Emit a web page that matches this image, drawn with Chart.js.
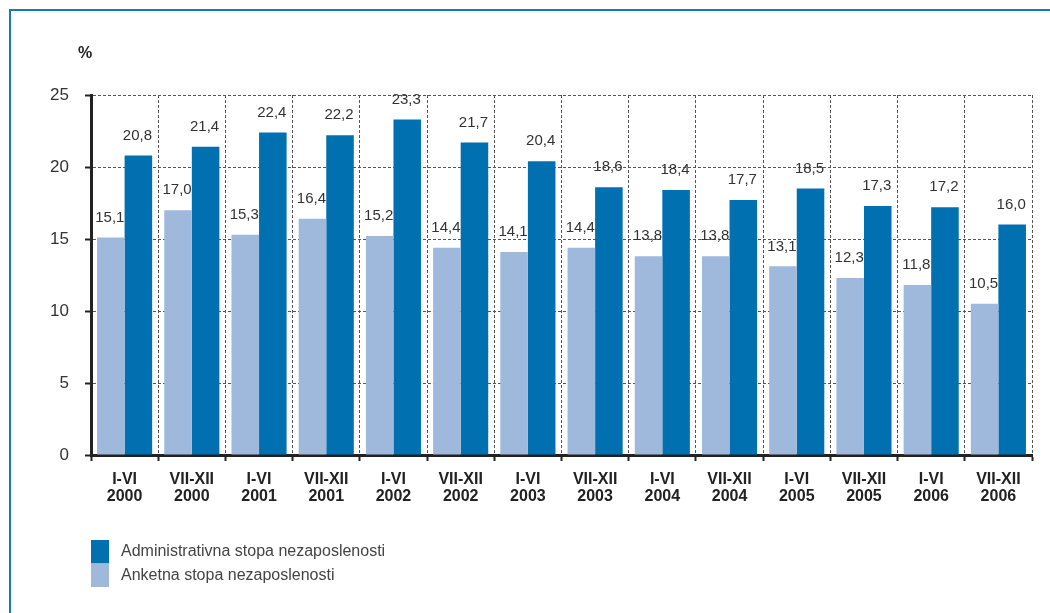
<!DOCTYPE html>
<html>
<head>
<meta charset="utf-8">
<script src="https://cdn.jsdelivr.net/npm/chart.js@4.4.0/dist/chart.umd.min.js"></script>
<style>
  html, body { margin: 0; padding: 0; background: #fff; }
  #wrap { width: 1050px; height: 613px; position: relative; }
</style>
</head>
<body>
<div id="wrap"><canvas id="grafico"></canvas></div>
<script>
// datos del grafico
const periodos = ['I-VI', 'VII-XII', 'I-VI', 'VII-XII', 'I-VI', 'VII-XII', 'I-VI', 'VII-XII', 'I-VI', 'VII-XII', 'I-VI', 'VII-XII', 'I-VI', 'VII-XII']
const godine = ['2000', '2000', '2001', '2001', '2002', '2002', '2003', '2003', '2004', '2004', '2005', '2005', '2006', '2006']
const anketna = [15.1, 17.0, 15.3, 16.4, 15.2, 14.4, 14.1, 14.4, 13.8, 13.8, 13.1, 12.3, 11.8, 10.5]
const administrativna = [20.8, 21.4, 22.4, 22.2, 23.3, 21.7, 20.4, 18.6, 18.4, 17.7, 18.5, 17.3, 17.2, 16.0]
const ticksY = [0, 5, 10, 15, 20, 25]
const nombreAnketna = 'Anketna stopa nezaposlenosti'
const nombreAdmin = 'Administrativna stopa nezaposlenosti'

const azulOscuro = '#0070b0'
const azulClaro = '#9fb9dd'
const fuente = '"Liberation Sans", Arial, sans-serif'

const etiquetas = periodos.map((p, i) => [p, godine[i]])

// plugin para marco, valores, % y leyenda
const extras = {
    id: 'extras',
    beforeDraw(chart) {
        const ctx = chart.ctx
        ctx.save()
        ctx.fillStyle = '#1a78b6'
        ctx.fillRect(9, 9, chart.width - 9, 2)
        ctx.fillRect(9, 9, 2, chart.height - 9)
        ctx.restore()
    },
    afterDatasetsDraw(chart) {
        const ctx = chart.ctx
        ctx.save()
        ctx.font = '15px ' + fuente
        ctx.fillStyle = '#333'
        ctx.textAlign = 'center'
        ctx.textBaseline = 'middle'
        chart.data.datasets.forEach((ds, i) => {
            const meta = chart.getDatasetMeta(i)
            meta.data.forEach((bar, j) => {
                const txt = ds.data[j].toFixed(1).replace('.', ',')
                ctx.fillText(txt, bar.x - 1, bar.y - 20)
            })
        })
        ctx.restore()
    },
    afterDraw(chart) {
        const ctx = chart.ctx
        const area = chart.chartArea
        ctx.save()
        ctx.font = 'bold 16px ' + fuente
        ctx.fillStyle = '#222'
        ctx.textAlign = 'center'
        ctx.textBaseline = 'middle'
        ctx.fillText('%', area.left - 6, 54)

        // leyenda (orden inverso)
        const items = chart.data.datasets.slice().reverse()
        ctx.font = '16px ' + fuente
        ctx.textAlign = 'left'
        items.forEach((ds, k) => {
            const y = 540 + k * 23.5
            ctx.fillStyle = ds.backgroundColor
            ctx.fillRect(area.left, y, 18, 23.5)
            ctx.fillStyle = '#444'
            ctx.fillText(ds.label, area.left + 30, y + 12)
        })
        ctx.restore()
    }
}

const ctx = document.getElementById('grafico').getContext('2d')
const grafico = new Chart(ctx, {
    type: 'bar',
    data: {
        labels: etiquetas,
        datasets: [{
            label: nombreAnketna,
            data: anketna,
            backgroundColor: azulClaro,
            borderWidth: 0
        }, {
            label: nombreAdmin,
            data: administrativna,
            backgroundColor: azulOscuro,
            borderWidth: 0
        }]
    },
    options: {
        responsive: true,
        maintainAspectRatio: false,
        animation: false,
        devicePixelRatio: 1,
        categoryPercentage: 0.82,
        barPercentage: 1,
        layout: {
            padding: { top: 95, right: 18, left: 0, bottom: 0 }
        },
        plugins: {
            legend: { display: false },
            tooltip: { enabled: false },
            title: { display: false }
        },
        scales: {
            x: {
                afterFit(scale) { scale.height = 158 },
                grid: {
                    offset: true,
                    color: '#555',
                    lineWidth: 1,
                    tickColor: '#222',
                    tickLength: 6,
                    tickWidth: 2
                },
                border: { color: '#222', width: 3, dash: [3, 2] },
                ticks: {
                    color: '#222',
                    padding: 10,
                    maxRotation: 0,
                    autoSkip: false,
                    font: { family: fuente, size: 16, weight: 'bold', lineHeight: 1.05 }
                }
            },
            y: {
                min: 0,
                max: 25,
                afterFit(scale) { scale.width = 91 },
                afterBuildTicks(scale) { scale.ticks = ticksY.map(v => ({ value: v })) },
                grid: {
                    color: '#555',
                    lineWidth: 1,
                    tickColor: '#222',
                    tickLength: 6,
                    tickWidth: 2
                },
                border: { color: '#222', width: 3, dash: [3, 2] },
                ticks: {
                    color: '#333',
                    padding: 16,
                    font: { family: fuente, size: 17 }
                }
            }
        }
    },
    plugins: [extras]
})
</script>
</body>
</html>
